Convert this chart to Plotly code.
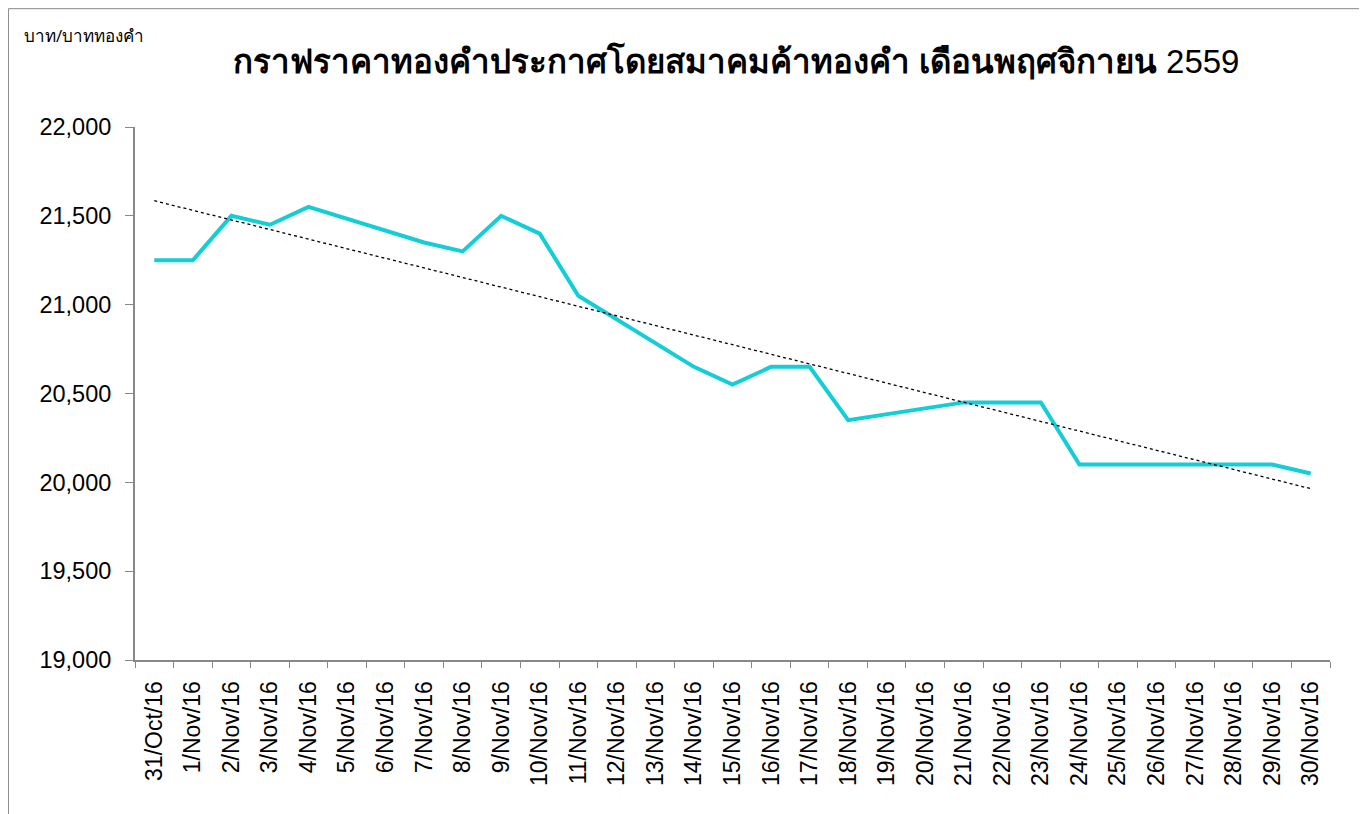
import numpy as np
import plotly.graph_objects as go

# categories (dates) and gold price, baht per baht-weight; weekends are blank
dates = ['31/Oct/16'] + ['%d/Nov/16' % d for d in range(1, 31)]
prices = [21250, 21250, 21500, 21450, 21550, None, None, 21350, 21300, 21500,
          21400, 21050, None, None, 20650, 20550, 20650, 20650, 20350, None,
          None, 20450, 20450, 20450, 20100, 20100, None, None, 20100, 20100,
          20050]
y_ticks = [19000, 19500, 20000, 20500, 21000, 21500, 22000]

# linear trendline like Excel (x = position of the category)
idx = [i for i, p in enumerate(prices) if p is not None]
vals = [prices[i] for i in idx]
slope, icpt = np.polyfit(idx, vals, 1)
trend = [slope * i + icpt for i in range(len(dates))]

fig = go.Figure()

fig.add_trace(go.Scatter(
    x=dates,
    y=prices,
    mode='lines',
    connectgaps=True,
    line=dict(color='#13CED6', width=4),
    showlegend=False
))

fig.add_trace(go.Scatter(
    x=dates,
    y=trend,
    mode='lines',
    line=dict(color='#000000', width=1.3, dash='3px,3px'),
    showlegend=False
))

fig.update_layout(
    title=dict(
        text='<b>กราฟราคาทองคำประกาศโดยสมาคมค้าทองคำ เดือนพฤศจิกายน</b> 2559',
        font=dict(size=33, color='#000000', family='Liberation Sans'),
        xref='paper',
        x=0.503,
        xanchor='center',
        y=0.934,
        yanchor='middle'
    ),
    xaxis=dict(
        type='category',
        range=[-0.5, len(dates) - 0.5],
        tickangle=-90,
        tickfont=dict(size=23, color='#000000', family='Liberation Sans'),
        ticks='outside',
        tickson='boundaries',
        ticklen=6,
        tickcolor='#888888',
        ticklabelstandoff=10,
        showline=True,
        linecolor='#888888',
        linewidth=2,
        showgrid=False,
        zeroline=False
    ),
    yaxis=dict(
        range=[19000, 22000],
        tickvals=y_ticks,
        tickformat=',d',
        tickfont=dict(size=23.5, color='#000000', family='Liberation Sans'),
        ticks='outside',
        ticklen=8,
        tickcolor='#888888',
        ticklabelstandoff=9,
        showline=True,
        linecolor='#888888',
        linewidth=2,
        showgrid=False,
        zeroline=False
    ),
    annotations=[dict(
        text='บาท/บาททองคำ',
        xref='paper', yref='paper',
        x=-0.0946, y=1.1726,
        xanchor='left', yanchor='middle',
        showarrow=False,
        font=dict(size=17, color='#000000')
    )],
    shapes=[dict(
        type='rect',
        xref='paper', yref='paper',
        x0=-0.1059, x1=1.026, y0=-0.4, y1=1.222,
        line=dict(color='#888888', width=1)
    )],
    plot_bgcolor='white',
    paper_bgcolor='white',
    width=1367,
    height=814,
    margin=dict(l=127, r=45, t=119, b=162)
)

fig.write_html("out.html")
